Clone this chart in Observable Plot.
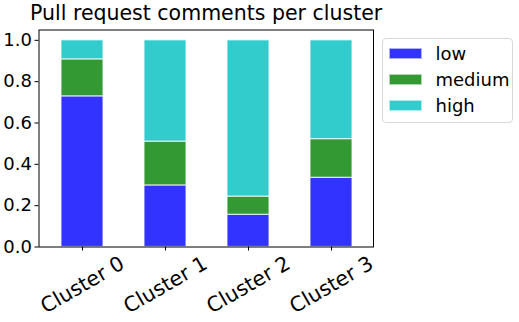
<!DOCTYPE html>
<html>
<head>
<meta charset="utf-8">
<script src="https://cdn.jsdelivr.net/npm/d3@7"></script>
<script src="https://cdn.jsdelivr.net/npm/@observablehq/plot@0.6"></script>
<style>
  body { margin: 0; background: #fff; font-family: "DejaVu Sans", sans-serif; }
  #wrap { position: relative; width: 519px; height: 322px; }
  #title { position: absolute; left: 30px; width: 352px; top: 1px; text-align: center; font-size: 20.5px; color: #000; white-space: nowrap; }
  #legend { position: absolute; left: 381.5px; top: 37.5px; width: 131px; height: 85px; border: 1px solid #d9d9d9; border-radius: 4px; box-sizing: border-box; background: rgba(255,255,255,0.8); }
  .row { position: absolute; left: 6px; height: 24px; display: flex; align-items: center; font-size: 18px; color: #000; }
  .sw { width: 33px; height: 11px; margin-right: 14px; box-sizing: border-box; }
</style>
</head>
<body>
<div id="wrap">
  <div id="title">Pull request comments per cluster</div>
  <div id="chart"></div>
  <div id="legend"></div>
</div>
<script>
const clusters = ["Cluster 0", "Cluster 1", "Cluster 2", "Cluster 3"];
const series = ["low", "medium", "high"];
const low = [0.729, 0.298, 0.156, 0.335];
const medium = [0.179, 0.212, 0.088, 0.187];
const high = [0.092, 0.490, 0.756, 0.478];
const colors = ["#3333ff", "#339933", "#33cccc"];
const edgeColors = ["#b0b0ff", "#b0d6b0", "#b0ecec"];
const yTicks = [0, 0.2, 0.4, 0.6, 0.8, 1.0];

const valuesBySeries = { low, medium, high };
const data = [];
series.forEach(s => clusters.forEach((c, i) => data.push({ cluster: c, series: s, value: valuesBySeries[s][i] })));

const chart = Plot.plot({
  width: 519,
  height: 322,
  marginLeft: 38.5,
  marginRight: 146,
  marginTop: 29.5,
  marginBottom: 75.5,
  style: { fontFamily: "DejaVu Sans, sans-serif", background: "transparent" },
  x: { domain: clusters, paddingInner: 0.5, paddingOuter: 0.25, label: null },
  y: { domain: [0, 1.05], label: null },
  color: { domain: series, range: colors },
  marks: [
    Plot.barY(data, {
      x: "cluster", y: "value", fill: "series",
      stroke: "#ffffff", strokeOpacity: 0.7, strokeWidth: 1.2,
      order: series
    }),
    Plot.axisY({ ticks: yTicks, tickFormat: d3.format(".1f"), tickSize: 4, tickPadding: 3, fontSize: 18, color: "#000", label: null, stroke: "#000" }),
    Plot.axisX({ tickSize: 4, tickPadding: 34, tickRotate: -30, textAnchor: "middle", lineAnchor: "middle", fontSize: 20.5, label: null, color: "#000" }),
    Plot.frame({ stroke: "#000", strokeWidth: 1 })
  ]
});
document.getElementById("chart").appendChild(chart);

const legend = document.getElementById("legend");
const rowTops = [3, 29, 55];
series.forEach((s, i) => {
  const row = document.createElement("div");
  row.className = "row";
  row.style.top = rowTops[i] + "px";
  const sw = document.createElement("div");
  sw.className = "sw";
  sw.style.background = colors[i];
  sw.style.border = "1px solid " + edgeColors[i];
  const t = document.createElement("span");
  t.textContent = s;
  row.appendChild(sw);
  row.appendChild(t);
  legend.appendChild(row);
});
</script>
</body>
</html>
